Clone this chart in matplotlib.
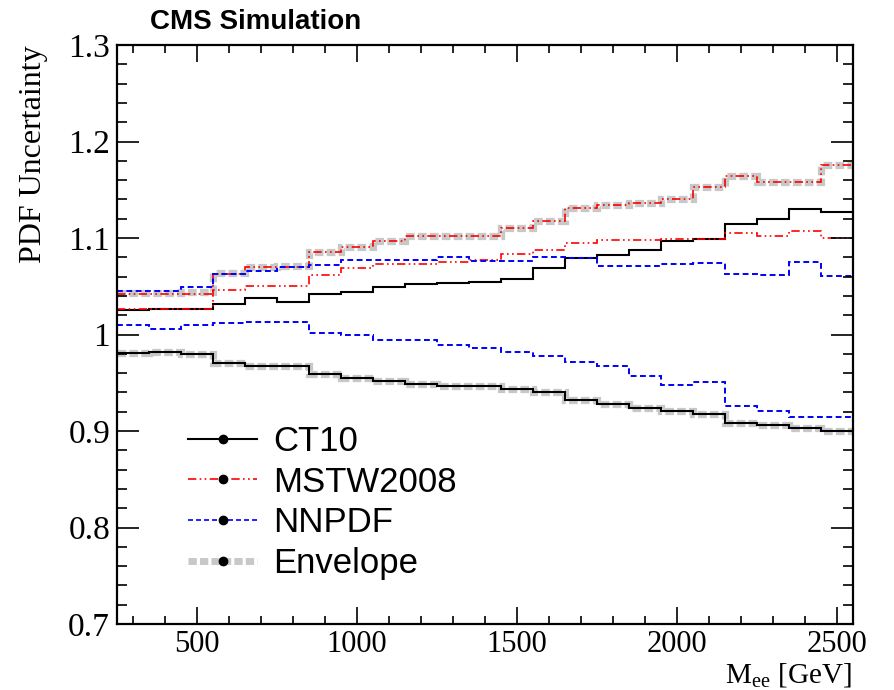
import numpy as np
import matplotlib
matplotlib.use('Agg')
import matplotlib.pyplot as plt
from matplotlib.lines import Line2D
from matplotlib.ticker import MultipleLocator, FuncFormatter

# bin edges in Mee [GeV]
edges = np.arange(250, 2551, 100)

ct10_up = [1.025, 1.026, 1.026, 1.032, 1.038, 1.034, 1.042, 1.044, 1.049, 1.052, 1.053, 1.054,
           1.058, 1.069, 1.079, 1.082, 1.088, 1.097, 1.099, 1.114, 1.120, 1.130, 1.127]
ct10_dn = [0.981, 0.982, 0.980, 0.970, 0.967, 0.967, 0.959, 0.955, 0.952, 0.949, 0.947, 0.947,
           0.944, 0.940, 0.932, 0.928, 0.924, 0.921, 0.918, 0.908, 0.906, 0.903, 0.900]
mstw_up = [1.042, 1.042, 1.042, 1.063, 1.070, 1.070, 1.086, 1.091, 1.097, 1.102, 1.102, 1.102,
           1.110, 1.118, 1.131, 1.134, 1.136, 1.140, 1.153, 1.164, 1.158, 1.158, 1.176]
mstw_dn = [1.026, 1.026, 1.026, 1.046, 1.050, 1.050, 1.062, 1.069, 1.073, 1.073, 1.075, 1.077,
           1.083, 1.088, 1.095, 1.098, 1.098, 1.099, 1.099, 1.105, 1.102, 1.107, 1.100]
nnpdf_up = [1.045, 1.045, 1.049, 1.063, 1.066, 1.070, 1.072, 1.077, 1.077, 1.077, 1.080, 1.076,
            1.076, 1.080, 1.079, 1.071, 1.071, 1.073, 1.074, 1.063, 1.062, 1.075, 1.061]
nnpdf_dn = [1.010, 1.006, 1.010, 1.012, 1.013, 1.013, 1.002, 1.000, 0.994, 0.994, 0.989, 0.986,
            0.982, 0.978, 0.971, 0.967, 0.957, 0.948, 0.951, 0.926, 0.921, 0.914, 0.914]
env_up = [1.043, 1.043, 1.044, 1.064, 1.070, 1.071, 1.086, 1.091, 1.097, 1.102, 1.102, 1.102,
          1.110, 1.118, 1.131, 1.134, 1.136, 1.140, 1.153, 1.164, 1.158, 1.158, 1.176]
env_dn = [0.981, 0.982, 0.980, 0.970, 0.967, 0.967, 0.959, 0.955, 0.952, 0.949, 0.947, 0.947,
          0.944, 0.940, 0.932, 0.928, 0.924, 0.921, 0.918, 0.908, 0.906, 0.903, 0.900]

labels = ['CT10', 'MSTW2008', 'NNPDF', 'Envelope']

plt.rcParams['mathtext.fontset'] = 'custom'
plt.rcParams['mathtext.rm'] = 'Liberation Serif'
plt.rcParams['lines.scale_dashes'] = True

fig = plt.figure(figsize=(8.95, 6.9), dpi=100)
ax = fig.add_axes([117/895, 1-624/690, (853-117)/895, (624-45)/690])

grey = '#c8c8c8'
env_ls = (0, (1.2, 0.45))
red_ls = (0, (5, 2, 1, 2, 1, 2))
blue_ls = (0, (3, 1.8))

for v in (env_up, env_dn):
    ax.stairs(v, edges, color=grey, lw=5.2, ls=env_ls, baseline=None)
for v in (ct10_up, ct10_dn):
    ax.stairs(v, edges, color='black', lw=1.5, baseline=None)
for v in (mstw_up, mstw_dn):
    ax.stairs(v, edges, color='red', lw=1.2, ls=red_ls, baseline=None)
for v in (nnpdf_up, nnpdf_dn):
    ax.stairs(v, edges, color='blue', lw=1.4, ls=blue_ls, baseline=None)

ax.set_xlim(250, 2550)
ax.set_ylim(0.7, 1.3)

ax.xaxis.set_major_locator(MultipleLocator(500))
ax.xaxis.set_minor_locator(MultipleLocator(100))
ax.yaxis.set_major_locator(MultipleLocator(0.1))
ax.yaxis.set_minor_locator(MultipleLocator(0.02))
ax.yaxis.set_major_formatter(FuncFormatter(lambda v, p: '%g' % round(v, 2)))

ax.tick_params(which='both', direction='in', top=True, right=True, width=1.2, color='black')
ax.tick_params(which='major', axis='x', length=12, pad=4)
ax.tick_params(which='minor', axis='x', length=6)
ax.tick_params(which='major', axis='y', length=16, pad=5)
ax.tick_params(which='minor', axis='y', length=7)
for lab in ax.get_yticklabels():
    lab.set_fontfamily('Liberation Serif')
    lab.set_fontsize(24)
for lab in ax.get_xticklabels():
    lab.set_fontfamily('Liberation Serif')
    lab.set_fontsize(22)
for s in ax.spines.values():
    s.set_linewidth(1.6)

handles = [
    Line2D([], [], color='black', lw=1.5, marker='o', ms=6, mfc='k', mec='k'),
    Line2D([], [], color='red', lw=1.2, ls=red_ls, marker='o', ms=6, mfc='k', mec='k'),
    Line2D([], [], color='blue', lw=1.2, ls=blue_ls, marker='o', ms=6, mfc='k', mec='k'),
    Line2D([], [], color=grey, lw=5, ls=env_ls, marker='o', ms=6, mfc='k', mec='k'),
]
ax.legend(handles, labels, loc='upper left', bbox_to_anchor=(188/895, 1-425/690),
          bbox_transform=fig.transFigure, frameon=False, borderpad=0, borderaxespad=0,
          handlelength=2.0, handletextpad=0.45, labelspacing=0.22,
          prop={'family': 'Liberation Sans', 'size': 25})

fig.text(150/895, 1-29/690, 'CMS Simulation', fontsize=20, fontweight='bold',
         family='Liberation Sans', va='baseline')
fig.text(34/895, 1-45/690, 'PDF Uncertainty', rotation=90, ha='center', va='top',
         fontsize=23, family='Liberation Serif')
fig.text(852/895, 1-683/690, r'M$_{\rm ee}$ [GeV]', ha='right', va='baseline',
         fontsize=21, family='Liberation Serif')

fig.savefig('out.png', dpi=100)
